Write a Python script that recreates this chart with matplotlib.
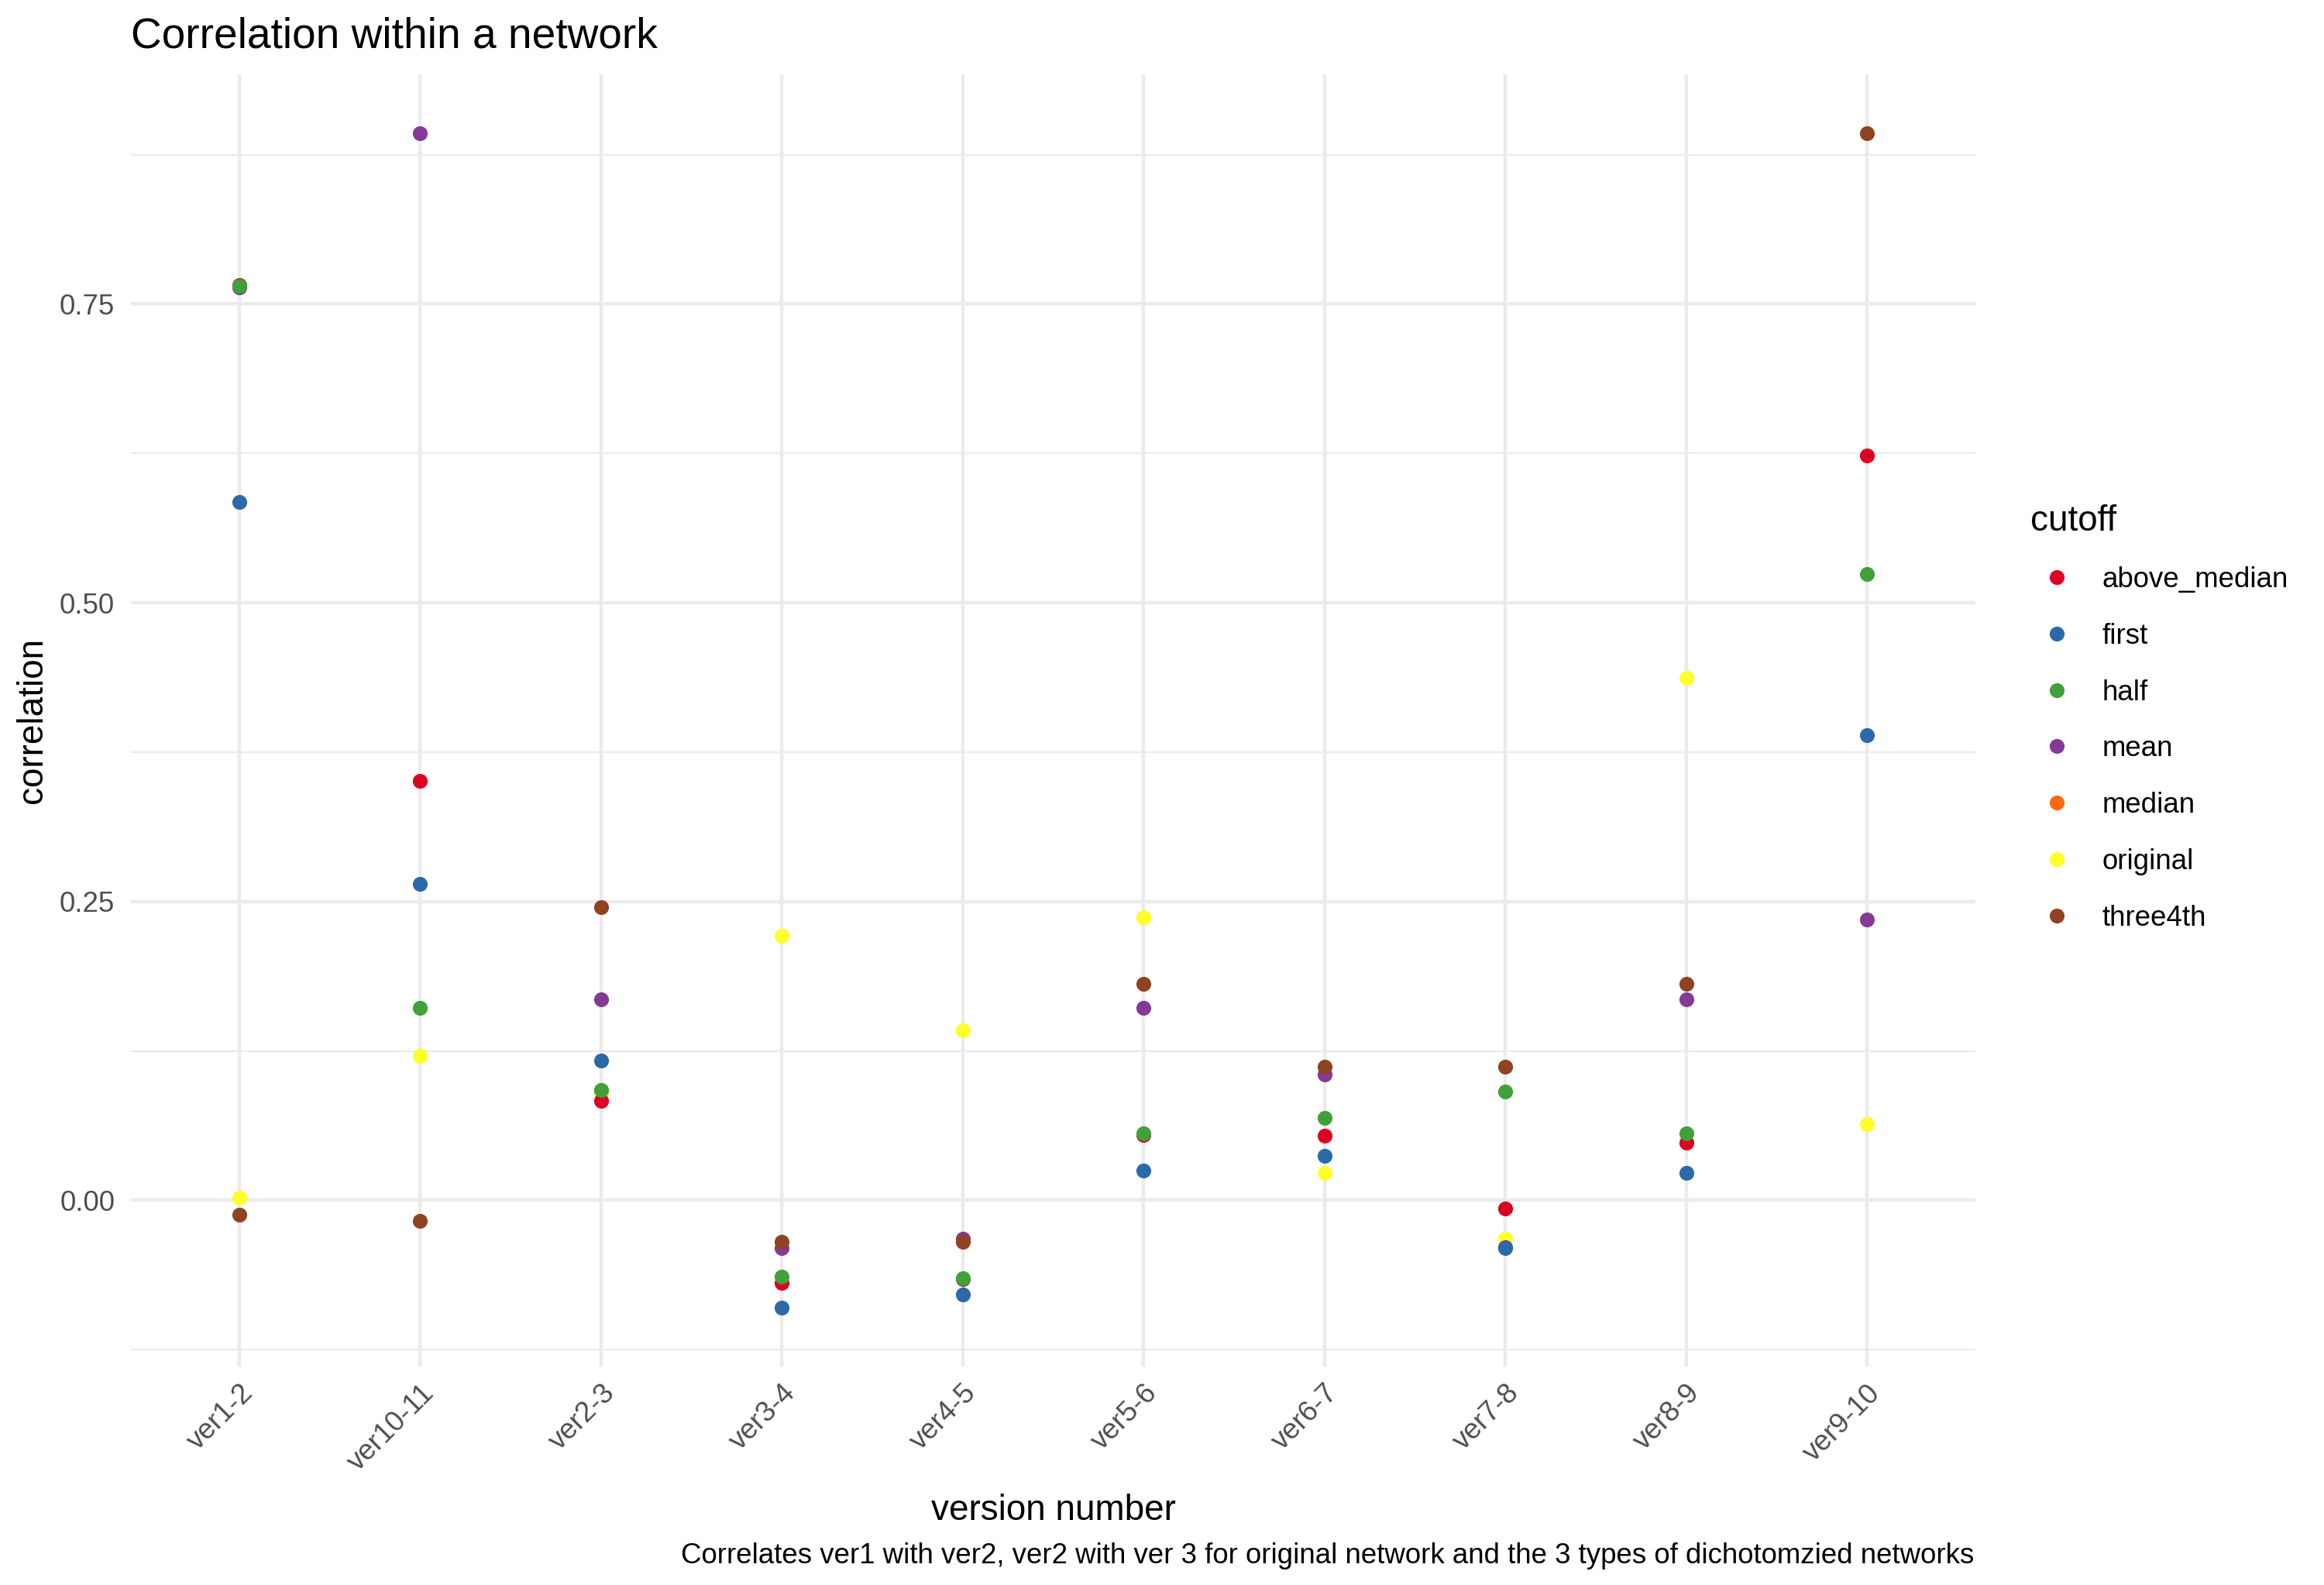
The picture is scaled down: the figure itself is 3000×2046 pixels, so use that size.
#Correlation within a network: scatter of correlation values per version pair
import numpy as np
import matplotlib as mpl
import matplotlib.pyplot as plt
from matplotlib.lines import Line2D

mpl.rcParams['font.family'] = ['Liberation Sans', 'DejaVu Sans']

#%%
#data
versions = ['ver1-2', 'ver10-11', 'ver2-3', 'ver3-4', 'ver4-5',
            'ver5-6', 'ver6-7', 'ver7-8', 'ver8-9', 'ver9-10']

above_median = [0.766, 0.351, 0.083, -0.069, -0.066, 0.055, 0.054, -0.007, 0.048, 0.623]
first = [0.584, 0.265, 0.117, -0.090, -0.079, 0.025, 0.037, -0.040, 0.023, 0.389]
half = [0.765, 0.161, 0.092, -0.064, -0.065, 0.056, 0.069, 0.091, 0.056, 0.524]
mean = [0.764, 0.893, 0.168, -0.040, -0.032, 0.161, 0.105, -0.039, 0.168, 0.235]
median = [np.nan] * 10  # never visible in the chart
original = [0.002, 0.121, 0.090, 0.221, 0.142, 0.237, 0.023, -0.032, 0.437, 0.064]
three4th = [-0.012, -0.017, 0.245, -0.035, -0.035, 0.181, 0.112, 0.112, 0.181, 0.893]

cutoffs = ['above_median', 'first', 'half', 'mean', 'median', 'original', 'three4th']
series = {'above_median': above_median, 'first': first, 'half': half, 'mean': mean,
          'median': median, 'original': original, 'three4th': three4th}
#Set1 palette as it shows up in the reference png
pal = {'above_median': '#DC0024', 'first': '#2C69A8', 'half': '#40A13A',
       'mean': '#853A95', 'median': '#FF6A10', 'original': '#FFFF2A',
       'three4th': '#8E4322'}
draw_order = ['original', 'above_median', 'mean', 'median', 'first', 'half', 'three4th']

#%%
W, H = 3000, 2046
fig = plt.figure(figsize=(W / 300, H / 300), dpi=300)
x0, x1, y_top, y_bot = 169, 2550, 96, 1764
ax = fig.add_axes([x0 / W, 1 - y_bot / H, (x1 - x0) / W, (y_bot - y_top) / H])

xpos = np.arange(len(versions))
for c in draw_order:
    ax.plot(xpos, series[c], 'o', ms=4.6, color=pal[c], mec='none', linestyle='none')

allv = np.array([v for c in cutoffs for v in series[c]], dtype=float)
lo, hi = np.nanmin(allv), np.nanmax(allv)
pad = 0.05 * (hi - lo)
ax.set_ylim(lo - pad, hi + pad)
ax.set_xlim(-0.6, len(versions) - 0.4)

ax.set_yticks([0, 0.25, 0.5, 0.75])
ax.set_yticklabels(['0.00', '0.25', '0.50', '0.75'])
ax.set_yticks([-0.125, 0.125, 0.375, 0.625, 0.875], minor=True)
ax.set_xticks(xpos)
ax.set_xticklabels(versions, rotation=45, ha='right', rotation_mode='anchor')

ax.tick_params(axis='both', which='both', length=0, labelsize=8.8, labelcolor='#4D4D4D')
ax.tick_params(axis='y', pad=5.0)
ax.tick_params(axis='x', pad=4.0)
ax.grid(True, which='major', color='#EBEBEB', lw=1.07)
ax.grid(True, which='minor', axis='y', color='#EBEBEB', lw=0.53)
ax.set_axisbelow(True)
for s in ax.spines.values():
    s.set_visible(False)

fig.text(x0 / W, 1 - 62 / H, 'Correlation within a network', fontsize=13.2,
         ha='left', va='baseline')
fig.text((x0 + x1) / 2 / W, 1 - 1950 / H, 'version number', fontsize=11,
         ha='center', va='center')
fig.text(42 / W, 1 - 930 / H, 'correlation', fontsize=11, rotation=90,
         ha='center', va='center')
fig.text(2548 / W, 1 - 2008 / H,
         'Correlates ver1 with ver2, ver2 with ver 3 for original network and the 3 types of dichotomzied networks',
         fontsize=8.8, ha='right', va='center')

#legend: title as its own text, keys below it
fig.text(2621 / W, 1 - 685 / H, 'cutoff', fontsize=11, ha='left', va='baseline')
handles = [Line2D([], [], marker='o', ms=4.6, color=pal[c], mec='none', linestyle='none')
           for c in cutoffs]
leg = fig.legend(handles, cutoffs, loc='upper left',
                 bbox_to_anchor=(2618 / W, 1 - 731 / H), frameon=False,
                 fontsize=8.8, borderpad=0, borderaxespad=0,
                 handlelength=2.0, handletextpad=0.6, labelspacing=1.03)

plt.savefig('out.png', dpi=300)
